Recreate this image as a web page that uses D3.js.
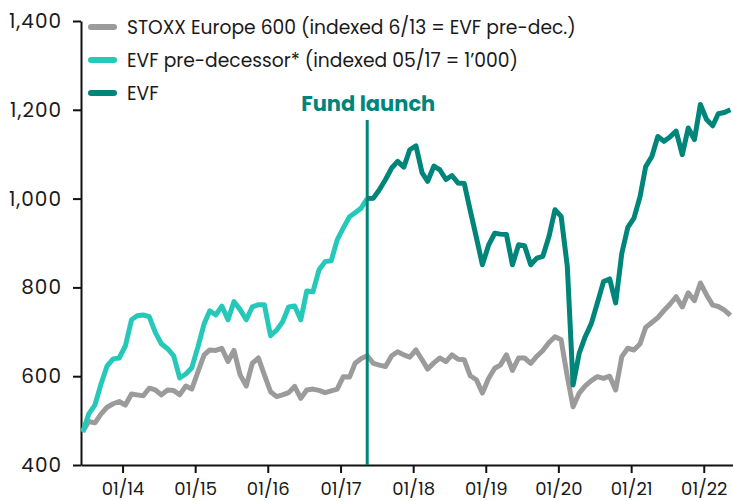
<!DOCTYPE html>
<html>
  <head>
    <meta charset="utf-8" />
    <style>
      body,
      html {
        margin: 0;
        padding: 0;
        background: #fff;
        font-family: "Poppins", "Inter", sans-serif;
        overflow: hidden;
      }
    </style>
    <script src="https://d3js.org/d3.v7.min.js"></script>
    <title>EVF vs STOXX Europe 600</title>
  </head>
  <body>
    <svg id="chart" width="733" height="501"></svg>

    <script>
      // monthly series, first month 06/13
      var startMonth = new Date(2013, 5, 15);
      var launchIndex = 47; // 05/17

      var stoxx = [
        476, 498, 495, 515, 530, 538, 543, 535, 560, 558, 556, 573, 569, 558,
        569, 568, 558, 578, 571, 610, 648, 659, 658, 663, 633, 658, 603, 578,
        629, 641, 603, 565, 554, 558, 563, 577, 550, 569, 571, 568, 563, 567,
        571, 599, 598, 629, 640, 646, 629, 625, 622, 646, 655, 648, 643, 659,
        637, 616, 630, 641, 633, 648, 638, 637, 601, 592, 562, 595, 618, 625,
        648, 613, 641, 641, 629, 645, 658, 676, 689, 682, 599, 531, 562, 578,
        590, 599, 595, 600, 569, 644, 663, 659, 673, 710, 721, 732, 748, 762,
        779, 756, 788, 770, 810, 783, 760, 757, 749, 737,
      ];

      var predecessor = [
        474, 515, 535, 583, 623, 639, 641, 668, 727, 736, 738, 734, 698, 673,
        662, 646, 596, 605, 619, 666, 718, 747, 738, 758, 727, 768, 750, 727,
        756, 761, 761, 691, 704, 722, 756, 758, 727, 792, 790, 840, 858, 860,
        907, 934, 959, 968, 979, 1000,
      ];

      // EVF starts at launch month
      var evf = [
        1000, 1001, 1020, 1043, 1069, 1084, 1071, 1110, 1119, 1058, 1039, 1073,
        1065, 1043, 1052, 1035, 1034, 973, 912, 851, 895, 922, 920, 919, 851,
        896, 894, 851, 866, 870, 915, 975, 960, 847, 580, 652, 689, 719, 765,
        813, 819, 765, 877, 935, 956, 1005, 1072, 1095, 1140, 1129, 1139, 1152,
        1099, 1159, 1133, 1212, 1178, 1164, 1191, 1194, 1200,
      ];

      var yTicks = [400, 600, 800, 1000, 1200, 1400];

      var legendItems = [
        { name: "STOXX Europe 600 (indexed 6/13 = EVF pre-dec.)", color: "#9b9b9b" },
        { name: "EVF pre-decessor* (indexed 05/17 = 1\u2019000)", color: "#26c9b9" },
        { name: "EVF", color: "#00857a" },
      ];

      var monthDate = function (i) {
        return d3.timeMonth.offset(startMonth, i);
      };

      var svg = d3.select("#chart");

      var x = d3
        .scaleTime()
        .domain([new Date(2013, 5, 6), new Date(2022, 4, 28)])
        .range([81, 733]);

      var y = d3.scaleLinear().domain([400, 1400]).range([465, 21]);

      var line = d3
        .line()
        .x(function (d) {
          return x(d.date);
        })
        .y(function (d) {
          return y(d.value);
        });

      function toPoints(arr, offset) {
        return arr.map(function (v, i) {
          return { date: monthDate(i + offset), value: v };
        });
      }

      // axes
      var xAxis = d3
        .axisBottom(x)
        .ticks(d3.timeYear.every(1))
        .tickFormat(d3.timeFormat("%m/%y"))
        .tickSizeInner(8)
        .tickSizeOuter(0)
        .tickPadding(9);

      var yAxis = d3
        .axisLeft(y)
        .tickValues(yTicks)
        .tickFormat(d3.format(","))
        .tickSizeInner(8)
        .tickSizeOuter(0)
        .tickPadding(11);

      var gx = svg
        .append("g")
        .attr("transform", "translate(0," + y(400) + ")")
        .call(xAxis);

      var gy = svg
        .append("g")
        .attr("transform", "translate(" + x.range()[0] + ",0)")
        .call(yAxis);

      [gx, gy].forEach(function (g) {
        g.select(".domain").attr("stroke", "#111").attr("stroke-width", 2);
        g.selectAll(".tick line").attr("stroke", "#111").attr("stroke-width", 2);
        g.selectAll(".tick text")
          .attr("fill", "#1a1a1a")
          .style("font-family", "Poppins, Inter, sans-serif");
      });
      gx.selectAll(".tick text").style("font-size", "18px");
      gy.selectAll(".tick text")
        .style("font-size", "20px")
        .style("letter-spacing", "1px");

      // lines
      svg
        .append("path")
        .datum(toPoints(stoxx, 0))
        .attr("fill", "none")
        .attr("stroke", legendItems[0].color)
        .attr("stroke-width", 5)
        .attr("stroke-linejoin", "round")
        .attr("d", line);

      svg
        .append("path")
        .datum(toPoints(predecessor, 0))
        .attr("fill", "none")
        .attr("stroke", legendItems[1].color)
        .attr("stroke-width", 5)
        .attr("stroke-linejoin", "round")
        .attr("d", line);

      svg
        .append("path")
        .datum(toPoints(evf, launchIndex))
        .attr("fill", "none")
        .attr("stroke", legendItems[2].color)
        .attr("stroke-width", 5)
        .attr("stroke-linejoin", "round")
        .attr("d", line);

      // fund launch marker
      var launchX = x(monthDate(launchIndex));
      svg
        .append("line")
        .attr("x1", launchX)
        .attr("x2", launchX)
        .attr("y1", 120)
        .attr("y2", y(400))
        .attr("stroke", "#00857a")
        .attr("stroke-width", 3);

      svg
        .append("text")
        .attr("x", launchX + 1)
        .attr("y", 111)
        .attr("text-anchor", "middle")
        .attr("fill", "#00857a")
        .style("font-weight", "700")
        .style("font-size", "21px")
        .text("Fund launch");

      // legend
      var legend = svg
        .selectAll(".legend")
        .data(legendItems)
        .enter()
        .append("g")
        .attr("class", "legend")
        .attr("transform", function (d, i) {
          return "translate(91," + (27 + i * 33) + ")";
        });

      legend
        .append("line")
        .attr("x1", 0)
        .attr("x2", 23)
        .attr("stroke", function (d) {
          return d.color;
        })
        .attr("stroke-width", 6)
        .attr("stroke-linecap", "round");

      legend
        .append("text")
        .attr("x", 36)
        .attr("dy", "0.35em")
        .attr("fill", "#1a1a1a")
        .style("font-size", "18.7px")
        .text(function (d) {
          return d.name;
        });
    </script>
  </body>
</html>
